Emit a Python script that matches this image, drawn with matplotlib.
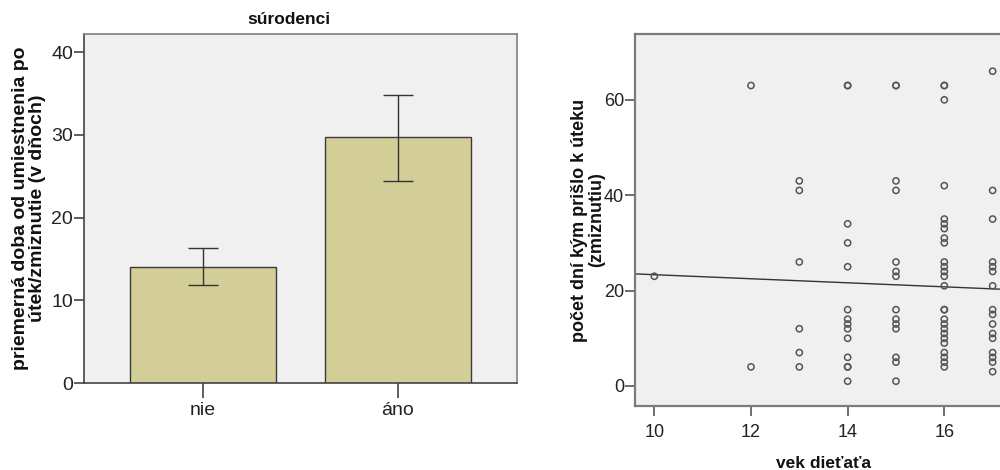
import matplotlib
matplotlib.use("Agg")
import matplotlib.pyplot as plt
import numpy as np

plt.rcParams['font.family'] = ['Liberation Sans', 'DejaVu Sans']

# ---- left panel data ----
categories = ['nie', 'áno']
means = [14.05, 29.7]
ci_low = [11.84, 24.4]
ci_high = [16.27, 34.8]
left_yticks = [0, 10, 20, 30, 40]
left_title = 'súrodenci'
left_ylabel = 'priemerná doba od umiestnenia po\nútek/zmiznutie (v dňoch)'

# ---- right panel data ----
ages = [10, 12, 13, 14, 15, 16, 17]
days_age10 = [23]
days_age12 = [63, 4]
days_age13 = [43, 41, 26, 12, 7, 4]
days_age14 = [63, 63, 34, 30, 25, 16, 14, 13, 12, 10, 6, 4, 4, 1]
days_age15 = [63, 63, 43, 41, 26, 24, 23, 16, 14, 13, 12, 6, 5, 1]
days_age16 = [63, 63, 60, 42, 35, 34, 33, 31, 30, 26, 25, 24, 23, 21,
              16, 16, 14, 13, 12, 11, 10, 9, 7, 6, 5, 4]
days_age17 = [66, 41, 35, 26, 25, 24, 21, 16, 15, 13, 11, 10, 7, 6, 5, 3]
fit_x = [9.6, 17.38]
fit_y = [23.5, 20.2]
right_xticks = [10, 12, 14, 16]
right_yticks = [0, 20, 40, 60]
right_xlabel = 'vek dieťaťa'
right_ylabel = 'počet dní kým prišlo k úteku\n(zmiznutiu)'

W, H = 1000, 470
fig = plt.figure(figsize=(W / 100, H / 100), dpi=100)
fig.patch.set_facecolor('white')

def px(x0, y0, x1, y1):
    return [x0 / W, 1 - y1 / H, (x1 - x0) / W, (y1 - y0) / H]

# ---------------- left panel ----------------
ax = fig.add_axes(px(84, 34, 517, 383))
ax.set_facecolor('#f0f0f0')
xpos = np.arange(len(categories))
yerr = [np.array(means) - np.array(ci_low), np.array(ci_high) - np.array(means)]
ax.bar(xpos, means, width=0.75, color='#d3ce97', edgecolor='#3a3a3a', linewidth=1.0, zorder=2)
ax.errorbar(xpos, means, yerr=yerr, fmt='none', ecolor='#333333', elinewidth=1.0,
            capsize=11, capthick=1.0, zorder=3)
ax.set_xlim(-0.612, 1.614)
ax.set_ylim(0, 42.2)
ax.set_yticks(left_yticks)
ax.set_xticks(xpos)
ax.set_xticklabels(categories)
ax.tick_params(axis='both', labelsize=14, colors='#222222', direction='out')
ax.tick_params(axis='y', length=7, width=1.2, color='#444444', pad=1)
ax.tick_params(axis='x', length=11, width=1.2, color='#444444', pad=3)
for s in ['top', 'right']:
    ax.spines[s].set_color('#808080')
    ax.spines[s].set_linewidth(1.2)
for s in ['left', 'bottom']:
    ax.spines[s].set_color('#444444')
    ax.spines[s].set_linewidth(1.2)
fig.text(289 / W, 1 - 20 / H, left_title, ha='center', va='center', fontsize=12.5,
         fontweight='bold', color='#111111')
fig.text(29 / W, 1 - 208 / H, left_ylabel, ha='center', va='center', rotation=90,
         fontsize=14, fontweight='bold', color='#111111', linespacing=0.95)

# ---------------- right panel ----------------
ax2 = fig.add_axes(px(635, 34, 1011, 406))
ax2.set_facecolor('#f0f0f0')
all_days = [days_age10, days_age12, days_age13, days_age14, days_age15, days_age16, days_age17]
for a, d in zip(ages, all_days):
    ax2.scatter([a] * len(d), d, s=20, facecolors='none', edgecolors='#555555',
                linewidths=1.1, zorder=3)
ax2.plot(fit_x, fit_y, color='#333333', linewidth=1.0, zorder=2)
ax2.set_xlim(9.6, 17.38)
ax2.set_ylim(-4.2, 73.8)
ax2.set_xticks(right_xticks)
ax2.set_yticks(right_yticks)
ax2.tick_params(axis='both', labelsize=13, colors='#222222', direction='out')
ax2.tick_params(axis='y', length=7, width=1.2, color='#555555', pad=1)
ax2.tick_params(axis='x', length=7, width=1.2, color='#555555', pad=6)
for s in ['top', 'right', 'left', 'bottom']:
    ax2.spines[s].set_color('#7a7a7a')
    ax2.spines[s].set_linewidth(1.6)
fig.text(823 / W, 1 - 463 / H, right_xlabel, ha='center', va='center', fontsize=12.5,
         fontweight='bold', color='#111111')
fig.text(588 / W, 1 - 220 / H, right_ylabel, ha='center', va='center', rotation=90,
         fontsize=13, fontweight='bold', color='#111111', linespacing=0.95)

fig.savefig('out.png', dpi=100, facecolor='white')
